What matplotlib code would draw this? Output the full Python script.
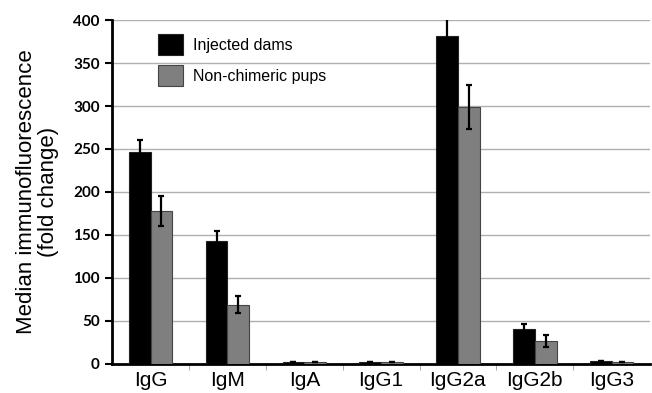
import numpy as np
import matplotlib
matplotlib.use("Agg")
import matplotlib.pyplot as plt

# data
categories = ["IgG", "IgM", "IgA", "IgG1", "IgG2a", "IgG2b", "IgG3"]
dams = [246, 143, 2, 2, 382, 41, 3]
dams_err = [14, 12, 0, 0, 25, 6, 0]
pups = [178, 69, 2, 2, 299, 27, 2]
pups_err = [17, 10, 0, 0, 26, 7, 0]

fig = plt.figure(figsize=(6.52, 3.93), dpi=100)
ax = fig.add_axes([0.172, 0.074, 0.825, 0.875])

x = np.arange(len(categories))
w = 0.283
ekw = dict(elinewidth=1.6, capthick=1.6, ecolor="black")
ax.bar(x - w / 2, dams, w, yerr=dams_err, capsize=2.5, color="black",
       edgecolor="#222222", linewidth=0.8, label="Injected dams",
       error_kw=ekw, zorder=3)
ax.bar(x + w / 2, pups, w, yerr=pups_err, capsize=2.5, color="#7f7f7f",
       edgecolor="#444444", linewidth=0.8, label="Non-chimeric pups",
       error_kw=ekw, zorder=3)

ax.set_xlim(-0.5, len(categories) - 0.5)
ax.set_ylim(0, 400)
ax.set_yticks(np.arange(0, 401, 50))
ax.set_yticklabels([str(v) for v in range(0, 401, 50)],
                   fontfamily="Lato", fontweight="bold", fontsize=11)
ax.set_xticks(x)
ax.set_xticklabels(categories, fontfamily="Liberation Sans", fontsize=15)
ax.set_xticks(np.arange(0.5, len(categories) - 0.5), minor=True)
ax.tick_params(axis="x", which="major", length=0, pad=5)
ax.tick_params(axis="x", which="minor", length=4, color="#999999")
ax.tick_params(axis="y", length=5, width=1.5, direction="out", pad=4)

ax.grid(axis="y", color="#b0b0b0", linewidth=1, zorder=0)
ax.set_axisbelow(True)
for s in ["top", "right"]:
    ax.spines[s].set_visible(False)
ax.spines["left"].set_linewidth(2)
ax.spines["bottom"].set_linewidth(2)

ax.set_ylabel("Median immunofluorescence\n(fold change)",
              fontfamily="Liberation Sans", fontsize=16, labelpad=10,
              linespacing=1.05)

ax.legend(loc="upper left", bbox_to_anchor=(0.058, 1.0), frameon=False,
          prop={"family": "Liberation Sans", "size": 11.5},
          handlelength=1.6, handleheight=1.6, labelspacing=0.65,
          handletextpad=0.6)

fig.savefig("out.png", dpi=100)
